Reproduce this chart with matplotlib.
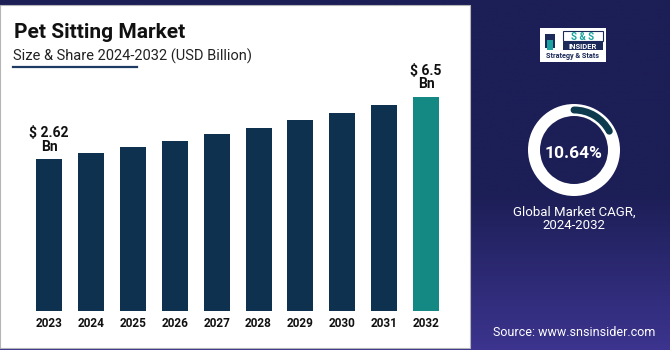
import numpy as np
import matplotlib
matplotlib.use("Agg")
import matplotlib.pyplot as plt
from matplotlib import patches

plt.rcParams['font.family'] = ['Roboto', 'DejaVu Sans']

# data
years = ['2023', '2024', '2025', '2026', '2027', '2028', '2029', '2030', '2031', '2032']
values = [2.62, 3.01, 3.37, 3.76, 4.20, 4.60, 5.07, 5.52, 6.00, 6.50]
labels = {0: '$ 2.62\nBn', 9: '$ 6.5\nBn'}
cagr = '10.64%'

W, H = 670, 350
fig = plt.figure(figsize=(6.7, 3.5), dpi=100)

# full figure overlay in pixel coords (y down)
bg = fig.add_axes([0, 0, 1, 1])
bg.set_xlim(0, W)
bg.set_ylim(H, 0)
bg.axis('off')

# right dark panel: vertical gradient navy -> purple
grad = np.linspace(0, 1, 256)[:, None]
top_c = np.array([28, 30, 86]) / 255
bot_c = np.array([60, 52, 142]) / 255
ramp = np.clip((grad - 0.55) / 0.45, 0, 1)
img = top_c[None, None, :] * (1 - ramp[..., None]) + bot_c[None, None, :] * ramp[..., None]
bg.imshow(img, extent=(0, W, H, 0), aspect='auto', zorder=0)

# white panel
bg.add_patch(patches.Rectangle((0, 5), 470, 343, facecolor='white',
                               edgecolor='#b5b5b5', lw=0.8, zorder=1))

# title
bg.text(14, 38.5, 'Pet Sitting Market', fontsize=15, fontweight='bold',
        color='#111111', va='baseline', ha='left', zorder=3)
bg.text(13, 60.5, 'Size & Share 2024-2032 (USD Billion)', fontsize=10.5,
        color='#222222', va='baseline', ha='left', zorder=3)
bg.plot([13, 137], [67, 67], color='#1d3b63', lw=1.6, zorder=3)

# logo box
bg.add_patch(patches.Rectangle((540, 28), 66, 34, facecolor='white', zorder=3))
bg.add_patch(patches.Rectangle((563, 31), 40, 10, facecolor='white',
                               edgecolor='#1c2a5a', lw=0.8, zorder=4))
bg.text(583, 36.5, 'S & S', fontsize=7, fontweight='bold', color='#1aa3a0',
        ha='center', va='center', zorder=5)
bg.add_patch(patches.Rectangle((563, 42), 40, 8, facecolor='#1c2a5a', zorder=4))
bg.text(583, 46.2, 'INSIDER', fontsize=5.5, fontweight='bold', color='white',
        ha='center', va='center', zorder=5)
bg.add_patch(patches.Rectangle((545, 34), 10, 14, facecolor='#1c2a5a', zorder=4))
bg.add_patch(patches.Rectangle((547, 40), 6, 10, facecolor='#1aa3a0', zorder=5))
bg.text(573, 56.5, 'Strategy & Stats', fontsize=5.2, fontweight='bold',
        color='#1c2a5a', ha='center', va='center', zorder=5)

# donut
cx, cy, r = 574, 150, 46
bg.add_patch(patches.Wedge((cx, cy), r, 0, 360, width=12, facecolor='white',
                           edgecolor='none', zorder=3))
arc = patches.Arc((cx, cy), 2 * (r - 6), 2 * (r - 6), theta1=-90, theta2=-28,
                  color='#0d3a4c', lw=5, zorder=4)
arc.set_capstyle('round')
bg.add_patch(arc)
bg.text(cx, 154, cagr, fontsize=12.5, fontweight='bold', color='white',
        ha='center', va='center', zorder=5)
bg.text(cx, 219, 'Global Market CAGR,\n2024-2032', fontsize=9.5, color='white',
        ha='center', va='center', linespacing=1.05, zorder=5)
bg.text(cx, 333, 'Source: www.snsinsider.com', fontsize=9, color='white',
        ha='center', va='center', zorder=5)

# bar chart
ymin = -6.83
ax = fig.add_axes([23.9 / W, (H - 311) / H, 427.4 / W, 251 / H])
ax.set_facecolor('none')
x = np.arange(len(years))
colors = ['#0e3150'] * (len(years) - 1) + ['#148883']
heights = [v - ymin for v in values]
ax.bar(x, heights, bottom=ymin, width=0.62, color=colors, zorder=2)
ax.set_xlim(-0.6, 9.6)
ax.set_ylim(ymin, ymin + 251 * 0.0623)
for i, txt in labels.items():
    ax.annotate(txt, (x[i], values[i]), xytext=(0, 4), textcoords='offset points',
                ha='center', va='bottom', fontsize=10, fontweight='bold',
                color='#111111', linespacing=0.95)
ax.set_xticks(x)
ax.set_xticklabels(years, fontsize=8.5, fontweight='bold', color='#111111')
ax.tick_params(axis='x', length=0, pad=4.5)
ax.set_yticks([])
for s in ax.spines.values():
    s.set_visible(False)

fig.savefig('out.png', dpi=100)
